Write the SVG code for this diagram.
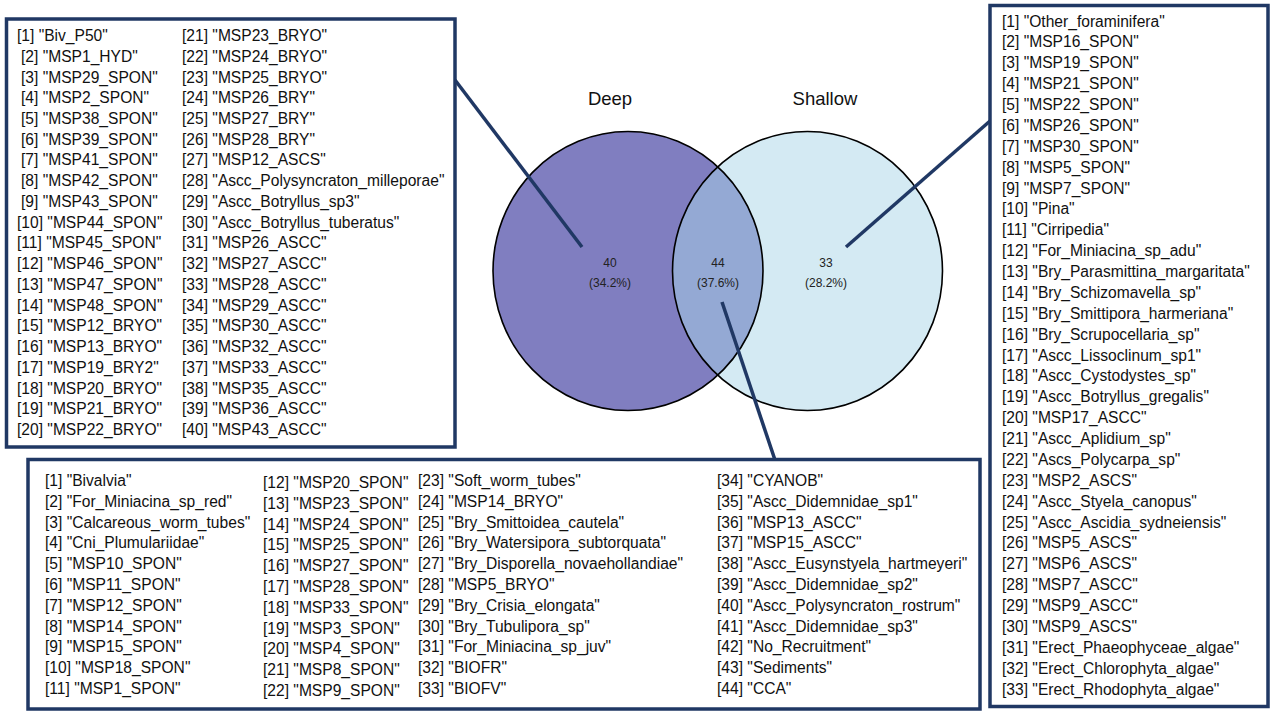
<svg xmlns="http://www.w3.org/2000/svg" width="1280" height="720" viewBox="0 0 1280 720">
<style>
.box{fill:#fff;stroke:#203864;stroke-width:3.5}
.t{font-family:"Liberation Sans",Arial,sans-serif;font-size:15.6px;fill:#111}
.vl{font-family:"Liberation Sans",Arial,sans-serif;font-size:18.5px;fill:#111;text-anchor:middle}
.vn{font-family:"Liberation Sans",Arial,sans-serif;font-size:12px;fill:#222;text-anchor:middle}
.conn{stroke:#203864;stroke-width:3.5;fill:none;stroke-linecap:butt}
.ring{fill:none;stroke:#000;stroke-width:1.6}
</style>
<defs>
<clipPath id="clipDeep"><ellipse cx="628" cy="271" rx="135" ry="139.5"/></clipPath>
</defs>
<rect width="1280" height="720" fill="#fff"/>

<g id="venn">
<ellipse cx="628" cy="271" rx="135" ry="139.5" fill="#807EC0"/>
<ellipse cx="807.5" cy="271" rx="135" ry="139.5" fill="#D4EAF3"/>
<ellipse cx="807.5" cy="271" rx="135" ry="139.5" fill="#94A9D4" clip-path="url(#clipDeep)"/>
<ellipse class="ring" cx="628" cy="271" rx="135" ry="139.5"/>
<ellipse class="ring" cx="807.5" cy="271" rx="135" ry="139.5"/>
<text class="vl" x="610" y="105">Deep</text>
<text class="vl" x="825" y="105">Shallow</text>
<text class="vn" x="610" y="267">40</text>
<text class="vn" x="610" y="287">(34.2%)</text>
<text class="vn" x="718" y="267">44</text>
<text class="vn" x="718" y="287">(37.6%)</text>
<text class="vn" x="826" y="267">33</text>
<text class="vn" x="826" y="287">(28.2%)</text>
</g>

<g id="connectors">
<line class="conn" x1="455" y1="80" x2="582" y2="247"/>
<line class="conn" x1="846" y1="247" x2="990" y2="121"/>
<line class="conn" x1="722" y1="302" x2="775" y2="460"/>
</g>

<g id="deep-only">
<rect class="box" x="6.5" y="19" width="448.5" height="428"/>
<text class="t" x="17" y="41">[1] "Biv_P50"</text>
<text class="t" x="21" y="61.7">[2] "MSP1_HYD"</text>
<text class="t" x="21" y="82.5">[3] "MSP29_SPON"</text>
<text class="t" x="21" y="103.2">[4] "MSP2_SPON"</text>
<text class="t" x="21" y="124">[5] "MSP38_SPON"</text>
<text class="t" x="21" y="144.7">[6] "MSP39_SPON"</text>
<text class="t" x="21" y="165.4">[7] "MSP41_SPON"</text>
<text class="t" x="21" y="186.2">[8] "MSP42_SPON"</text>
<text class="t" x="21" y="206.9">[9] "MSP43_SPON"</text>
<text class="t" x="17" y="227.7">[10] "MSP44_SPON"</text>
<text class="t" x="17" y="248.4">[11] "MSP45_SPON"</text>
<text class="t" x="17" y="269.1">[12] "MSP46_SPON"</text>
<text class="t" x="17" y="289.9">[13] "MSP47_SPON"</text>
<text class="t" x="17" y="310.6">[14] "MSP48_SPON"</text>
<text class="t" x="17" y="331.4">[15] "MSP12_BRYO"</text>
<text class="t" x="17" y="352.1">[16] "MSP13_BRYO"</text>
<text class="t" x="17" y="372.8">[17] "MSP19_BRY2"</text>
<text class="t" x="17" y="393.6">[18] "MSP20_BRYO"</text>
<text class="t" x="17" y="414.3">[19] "MSP21_BRYO"</text>
<text class="t" x="17" y="435.1">[20] "MSP22_BRYO"</text>
<text class="t" x="182" y="41">[21] "MSP23_BRYO"</text>
<text class="t" x="182" y="61.7">[22] "MSP24_BRYO"</text>
<text class="t" x="182" y="82.5">[23] "MSP25_BRYO"</text>
<text class="t" x="182" y="103.2">[24] "MSP26_BRY"</text>
<text class="t" x="182" y="124">[25] "MSP27_BRY"</text>
<text class="t" x="182" y="144.7">[26] "MSP28_BRY"</text>
<text class="t" x="182" y="165.4">[27] "MSP12_ASCS"</text>
<text class="t" x="182" y="186.2">[28] "Ascc_Polysyncraton_milleporae"</text>
<text class="t" x="182" y="206.9">[29] "Ascc_Botryllus_sp3"</text>
<text class="t" x="182" y="227.7">[30] "Ascc_Botryllus_tuberatus"</text>
<text class="t" x="182" y="248.4">[31] "MSP26_ASCC"</text>
<text class="t" x="182" y="269.1">[32] "MSP27_ASCC"</text>
<text class="t" x="182" y="289.9">[33] "MSP28_ASCC"</text>
<text class="t" x="182" y="310.6">[34] "MSP29_ASCC"</text>
<text class="t" x="182" y="331.4">[35] "MSP30_ASCC"</text>
<text class="t" x="182" y="352.1">[36] "MSP32_ASCC"</text>
<text class="t" x="182" y="372.8">[37] "MSP33_ASCC"</text>
<text class="t" x="182" y="393.6">[38] "MSP35_ASCC"</text>
<text class="t" x="182" y="414.3">[39] "MSP36_ASCC"</text>
<text class="t" x="182" y="435.1">[40] "MSP43_ASCC"</text>
</g>

<g id="shallow-only">
<rect class="box" x="990" y="5.5" width="278" height="701"/>
<text class="t" x="1002" y="26.5">[1] "Other_foraminifera"</text>
<text class="t" x="1002" y="47.4">[2] "MSP16_SPON"</text>
<text class="t" x="1002" y="68.3">[3] "MSP19_SPON"</text>
<text class="t" x="1002" y="89.1">[4] "MSP21_SPON"</text>
<text class="t" x="1002" y="110">[5] "MSP22_SPON"</text>
<text class="t" x="1002" y="130.9">[6] "MSP26_SPON"</text>
<text class="t" x="1002" y="151.8">[7] "MSP30_SPON"</text>
<text class="t" x="1002" y="172.6">[8] "MSP5_SPON"</text>
<text class="t" x="1002" y="193.5">[9] "MSP7_SPON"</text>
<text class="t" x="1002" y="214.4">[10] "Pina"</text>
<text class="t" x="1002" y="235.3">[11] "Cirripedia"</text>
<text class="t" x="1002" y="256.1">[12] "For_Miniacina_sp_adu"</text>
<text class="t" x="1002" y="277">[13] "Bry_Parasmittina_margaritata"</text>
<text class="t" x="1002" y="297.9">[14] "Bry_Schizomavella_sp"</text>
<text class="t" x="1002" y="318.8">[15] "Bry_Smittipora_harmeriana"</text>
<text class="t" x="1002" y="339.6">[16] "Bry_Scrupocellaria_sp"</text>
<text class="t" x="1002" y="360.5">[17] "Ascc_Lissoclinum_sp1"</text>
<text class="t" x="1002" y="381.4">[18] "Ascc_Cystodystes_sp"</text>
<text class="t" x="1002" y="402.3">[19] "Ascc_Botryllus_gregalis"</text>
<text class="t" x="1002" y="423.1">[20] "MSP17_ASCC"</text>
<text class="t" x="1002" y="444">[21] "Ascc_Aplidium_sp"</text>
<text class="t" x="1002" y="464.9">[22] "Ascs_Polycarpa_sp"</text>
<text class="t" x="1002" y="485.8">[23] "MSP2_ASCS"</text>
<text class="t" x="1002" y="506.6">[24] "Ascc_Styela_canopus"</text>
<text class="t" x="1002" y="527.5">[25] "Ascc_Ascidia_sydneiensis"</text>
<text class="t" x="1002" y="548.4">[26] "MSP5_ASCS"</text>
<text class="t" x="1002" y="569.3">[27] "MSP6_ASCS"</text>
<text class="t" x="1002" y="590.1">[28] "MSP7_ASCC"</text>
<text class="t" x="1002" y="611">[29] "MSP9_ASCC"</text>
<text class="t" x="1002" y="631.9">[30] "MSP9_ASCS"</text>
<text class="t" x="1002" y="652.8">[31] "Erect_Phaeophyceae_algae"</text>
<text class="t" x="1002" y="673.6">[32] "Erect_Chlorophyta_algae"</text>
<text class="t" x="1002" y="694.5">[33] "Erect_Rhodophyta_algae"</text>
</g>

<g id="shared">
<rect class="box" x="28" y="459.5" width="952" height="249.5"/>
<text class="t" x="45" y="486">[1] "Bivalvia"</text>
<text class="t" x="45" y="506.8">[2] "For_Miniacina_sp_red"</text>
<text class="t" x="45" y="527.6">[3] "Calcareous_worm_tubes"</text>
<text class="t" x="45" y="548.4">[4] "Cni_Plumulariidae"</text>
<text class="t" x="45" y="569.2">[5] "MSP10_SPON"</text>
<text class="t" x="45" y="590">[6] "MSP11_SPON"</text>
<text class="t" x="45" y="610.8">[7] "MSP12_SPON"</text>
<text class="t" x="45" y="631.6">[8] "MSP14_SPON"</text>
<text class="t" x="45" y="652.4">[9] "MSP15_SPON"</text>
<text class="t" x="45" y="673.2">[10] "MSP18_SPON"</text>
<text class="t" x="45" y="694">[11] "MSP1_SPON"</text>
<text class="t" x="263" y="488">[12] "MSP20_SPON"</text>
<text class="t" x="263" y="508.8">[13] "MSP23_SPON"</text>
<text class="t" x="263" y="529.6">[14] "MSP24_SPON"</text>
<text class="t" x="263" y="550.4">[15] "MSP25_SPON"</text>
<text class="t" x="263" y="571.2">[16] "MSP27_SPON"</text>
<text class="t" x="263" y="592">[17] "MSP28_SPON"</text>
<text class="t" x="263" y="612.8">[18] "MSP33_SPON"</text>
<text class="t" x="263" y="633.6">[19] "MSP3_SPON"</text>
<text class="t" x="263" y="654.4">[20] "MSP4_SPON"</text>
<text class="t" x="263" y="675.2">[21] "MSP8_SPON"</text>
<text class="t" x="263" y="696">[22] "MSP9_SPON"</text>
<text class="t" x="418" y="486">[23] "Soft_worm_tubes"</text>
<text class="t" x="418" y="506.8">[24] "MSP14_BRYO"</text>
<text class="t" x="418" y="527.6">[25] "Bry_Smittoidea_cautela"</text>
<text class="t" x="418" y="548.4">[26] "Bry_Watersipora_subtorquata"</text>
<text class="t" x="418" y="569.2">[27] "Bry_Disporella_novaehollandiae"</text>
<text class="t" x="418" y="590">[28] "MSP5_BRYO"</text>
<text class="t" x="418" y="610.8">[29] "Bry_Crisia_elongata"</text>
<text class="t" x="418" y="631.6">[30] "Bry_Tubulipora_sp"</text>
<text class="t" x="418" y="652.4">[31] "For_Miniacina_sp_juv"</text>
<text class="t" x="418" y="673.2">[32] "BIOFR"</text>
<text class="t" x="418" y="694">[33] "BIOFV"</text>
<text class="t" x="717" y="486">[34] "CYANOB"</text>
<text class="t" x="717" y="506.8">[35] "Ascc_Didemnidae_sp1"</text>
<text class="t" x="717" y="527.6">[36] "MSP13_ASCC"</text>
<text class="t" x="717" y="548.4">[37] "MSP15_ASCC"</text>
<text class="t" x="717" y="569.2">[38] "Ascc_Eusynstyela_hartmeyeri"</text>
<text class="t" x="717" y="590">[39] "Ascc_Didemnidae_sp2"</text>
<text class="t" x="717" y="610.8">[40] "Ascc_Polysyncraton_rostrum"</text>
<text class="t" x="717" y="631.6">[41] "Ascc_Didemnidae_sp3"</text>
<text class="t" x="717" y="652.4">[42] "No_Recruitment"</text>
<text class="t" x="717" y="673.2">[43] "Sediments"</text>
<text class="t" x="717" y="694">[44] "CCA"</text>
</g>
</svg>
